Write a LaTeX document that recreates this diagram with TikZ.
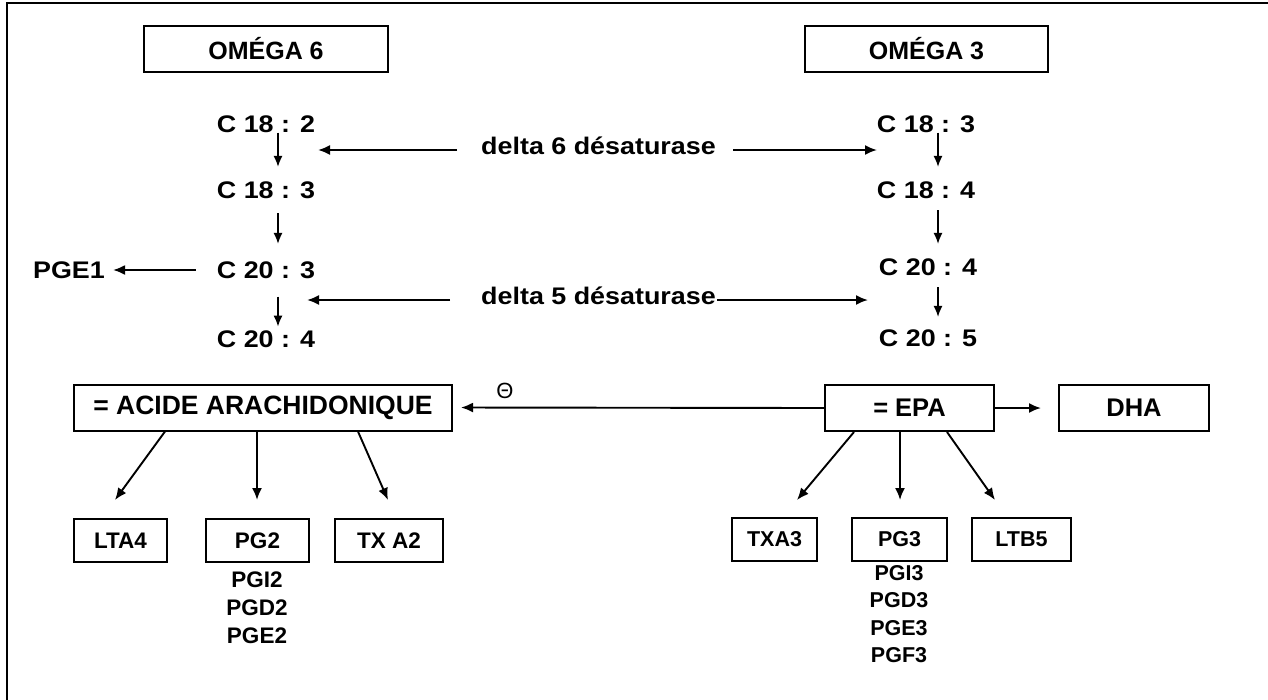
\documentclass[tikz,border=0pt]{standalone}
\usepackage{fontspec}
\setmainfont{Liberation Sans}
\newfontfamily\widesans{Liberation Sans}[FakeStretch=1.12]
\usetikzlibrary{arrows.meta}
\begin{document}
\begin{tikzpicture}[x=1pt,y=-1pt,
  box/.style={draw,line width=2pt,inner sep=0pt},
  headbox/.style={box,minimum width=244pt,minimum height=46pt,font=\bfseries\fontsize{25}{29}\selectfont},
  bigbox/.style={box,minimum height=46pt,font=\bfseries\fontsize{25.5}{30}\selectfont},
  smallbox/.style={box,minimum height=43pt,font=\bfseries\fontsize{22.5}{26}\selectfont},
  chem/.style={inner sep=0pt,font=\widesans\bfseries\fontsize{24}{28}\selectfont},
  plist/.style={inner sep=0pt,align=center},
  arr/.style={line width=1.9pt,-{Latex[length=12pt,width=10pt]}},
  sarr/.style={line width=1.5pt,-{Latex[length=11pt,width=9pt]}}]

\useasboundingbox (0,0) rectangle (1268,699);

% frame (top and left edges)
\draw[line width=2pt] (1272,3) -- (7,3) -- (7,703);

% headers
\node[headbox] (o6) at (266,49) {OMÉGA 6};
\node[headbox,minimum width=243pt] (o3) at (926.5,49) {OMÉGA 3};

% omega 6 chain
\node[chem] (l1) at (266,124) {C 18 : 2};
\node[chem] (l2) at (266,190) {C 18 : 3};
\node[chem] (l3) at (266,270) {C 20 : 3};
\node[chem] (l4) at (266,339) {C 20 : 4};
\node[chem] (pge1) at (69,270) {PGE1};

% omega 3 chain
\node[chem] (r1) at (926,124) {C 18 : 3};
\node[chem] (r2) at (926,190) {C 18 : 4};
\node[chem] (r3) at (928,267) {C 20 : 4};
\node[chem] (r4) at (928,338) {C 20 : 5};

% chain steps
\draw[sarr,shorten >=14.4pt] ([xshift=12pt]l1.south) -- ([xshift=12pt]l2.north);
\draw[sarr,shorten <=14.4pt,shorten >=17.4pt] ([xshift=12pt]l2.south) -- ([xshift=12pt]l3.north);
\draw[sarr,shorten <=18pt,shorten >=3.7pt] ([xshift=12pt]l3.south) -- ([xshift=12pt]l4.north);
\draw[sarr,shorten >=14.4pt] ([xshift=12pt]r1.south) -- ([xshift=12pt]r2.north);
\draw[sarr,shorten <=11.4pt,shorten >=14.4pt] ([xshift=12pt]r2.south) -- ([xshift=10pt]r3.north);
\draw[sarr,shorten <=11.4pt,shorten >=12.4pt] ([xshift=10pt]r3.south) -- ([xshift=10pt]r4.north);
\draw[arr,shorten <=21pt,shorten >=8pt] (l3.west) -- (pge1.east);

% desaturases
\node[chem] (d6) at (598.5,145.5) {delta 6 désaturase};
\node[chem] (d5) at (598.5,295.5) {delta 5 désaturase};
\coordinate (d6a) at (457,150);
\coordinate (d6at) at (318,150);
\coordinate (d6b) at (733,150);
\coordinate (d6bt) at (877,150);
\coordinate (d5a) at (450,300);
\coordinate (d5at) at (307,300);
\coordinate (d5b) at (717,300);
\coordinate (d5bt) at (868,300);
\draw[arr] (d6a) -- (d6at);
\draw[arr] (d6b) -- (d6bt);
\draw[arr] (d5a) -- (d5at);
\draw[arr] (d5b) -- (d5bt);

% main products
\node[bigbox,minimum width=378pt,font=\bfseries\fontsize{26.5}{31}\selectfont] (aa) at (263,407.5) {= ACIDE ARACHIDONIQUE};
\node[bigbox,minimum width=169pt] (epa) at (909.5,408) {= EPA};
\node[bigbox,minimum width=150pt] (dha) at (1134,408) {DHA};
\draw[arr,shorten >=8pt] (epa.west) -- (aa.east);
\draw[arr,shorten >=17pt] (epa.east) -- (dha.west);
\node[inner sep=0pt,font=\fontsize{22}{26}\selectfont] (inh) at (505,391) {Θ};

% eicosanoids from arachidonic acid
\node[smallbox,minimum width=93pt] (lta4) at (120.5,540.5) {LTA4};
\node[smallbox,minimum width=103pt] (pg2) at (257.5,540.5) {PG2};
\node[smallbox,minimum width=108pt] (txa2) at (389,540.5) {TX A2};
\node[plist,font=\bfseries\fontsize{22.5}{28}\selectfont] (pg2l) at (257,608) {PGI2\\PGD2\\PGE2};
\coordinate (tlta4) at (115,500);
\coordinate (tpg2) at (257,500);
\coordinate (ttxa2) at (388,500);
\draw[arr] ([xshift=-98pt]aa.south) -- (tlta4);
\draw[arr] ([xshift=-6pt]aa.south) -- (tpg2);
\draw[arr] ([xshift=95pt]aa.south) -- (ttxa2);

% eicosanoids from EPA
\node[smallbox,minimum width=85pt,font=\bfseries\fontsize{21.5}{25}\selectfont] (txa3) at (774.5,539.5) {TXA3};
\node[smallbox,minimum width=95pt,font=\bfseries\fontsize{21.5}{25}\selectfont] (pg3) at (899.5,539.5) {PG3};
\node[smallbox,minimum width=99pt,font=\bfseries\fontsize{21.5}{25}\selectfont] (ltb5) at (1021.5,539.5) {LTB5};
\node[plist,font=\bfseries\fontsize{21.5}{27.3}\selectfont] (pg3l) at (899,614) {PGI3\\PGD3\\PGE3\\PGF3};
\coordinate (ttxa3) at (797,500);
\coordinate (tpg3) at (900,500);
\coordinate (tltb5) at (995,500);
\draw[arr] ([xshift=-55.5pt]epa.south) -- (ttxa3);
\draw[arr] ([xshift=-9.5pt]epa.south) -- (tpg3);
\draw[arr] ([xshift=37.5pt]epa.south) -- (tltb5);
\end{tikzpicture}
\end{document}
